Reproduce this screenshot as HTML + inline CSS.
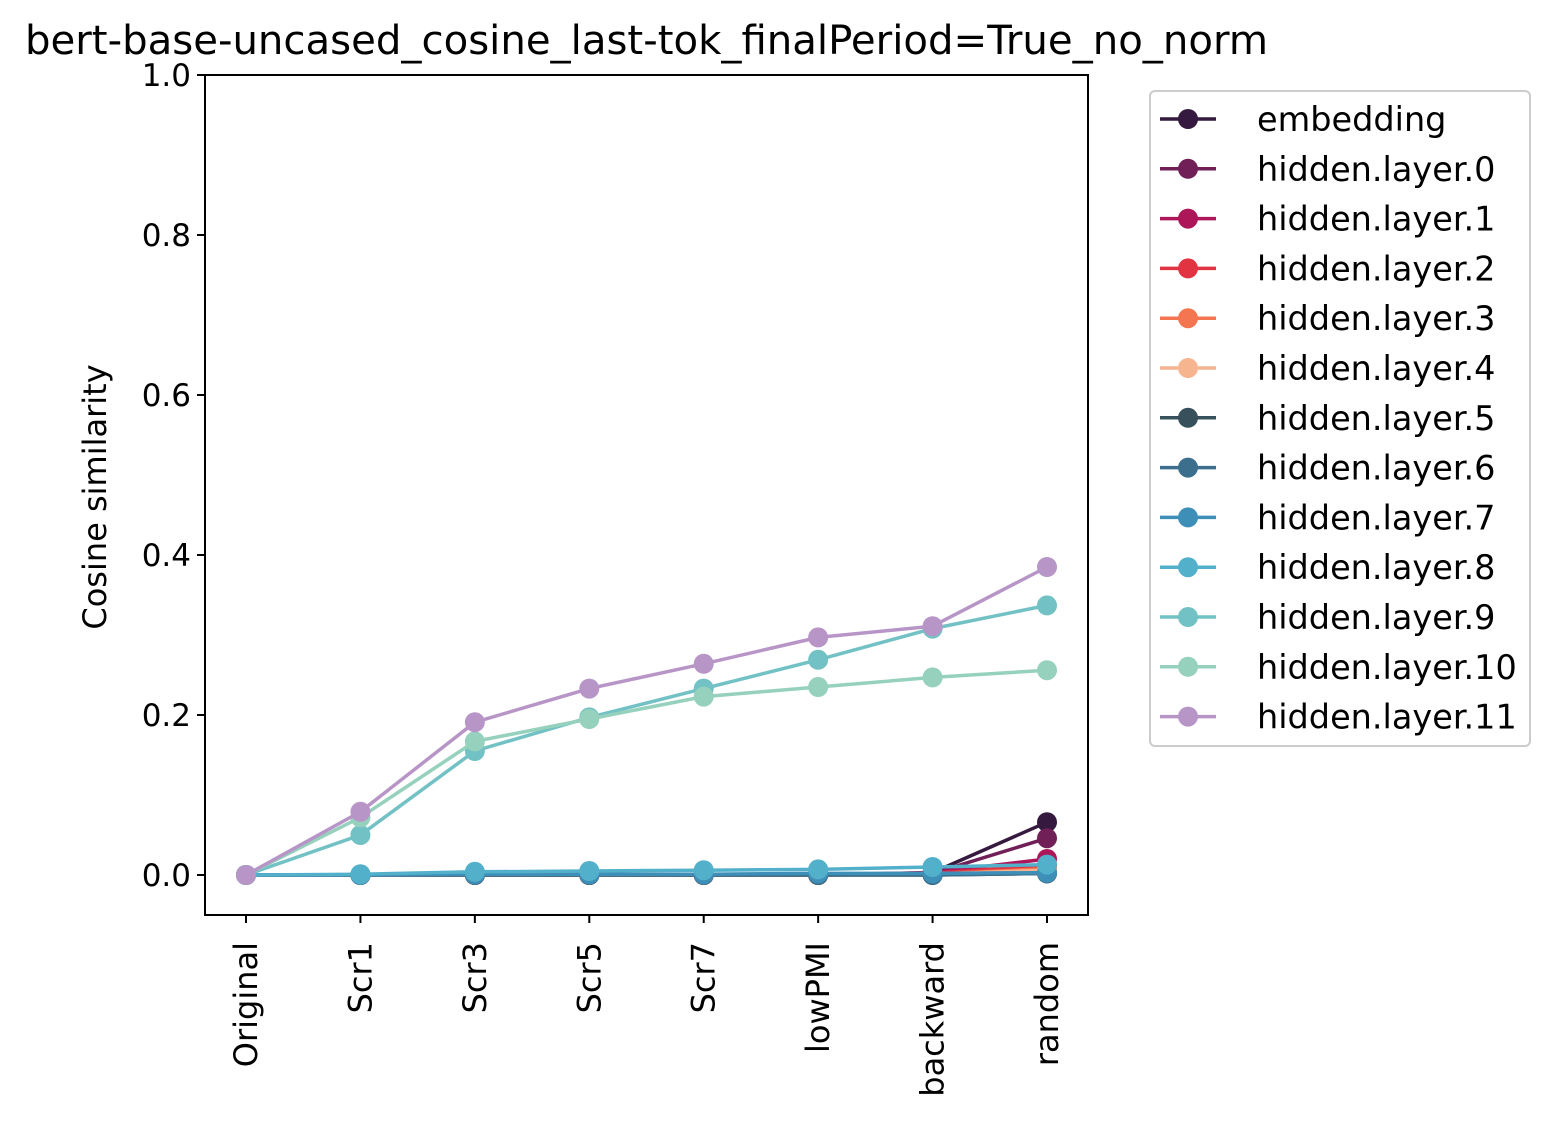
<!DOCTYPE html>
<html><head><meta charset="utf-8"><style>body{margin:0;background:#fff}svg{display:block;font-family:"DejaVu Sans","Liberation Sans",sans-serif}</style></head>
<body>
<svg id="c" width="1555" height="1124"></svg>
<script>
const categories=["Original","Scr1","Scr3","Scr5","Scr7","lowPMI","backward","random"];
const seriesNames=["embedding","hidden.layer.0","hidden.layer.1","hidden.layer.2","hidden.layer.3","hidden.layer.4","hidden.layer.5","hidden.layer.6","hidden.layer.7","hidden.layer.8","hidden.layer.9","hidden.layer.10","hidden.layer.11"];
const colors=["#35193e","#701f57","#ad1759","#e13342","#f37651","#f6b48f","#37505c","#3b6f8c","#3e8fb8","#52b0cb","#72c1c4","#95d1bc","#b795c7"];
const sEmb=[0,0,0,0,0,0,0.003,0.066];
const sL0=[0,0,0,0,0,0,0.002,0.046];
const sL1=[0,0,0,0,0,0,0.003,0.02];
const sL2=[0,0,0,0,0,0,0.002,0.012];
const sL3=[0,0,0,0,0,0,0.001,0.008];
const sL4=[0,0,0,0,0,0,0.001,0.006];
const sL5=[0,0,0,0,0,0,0,0.002];
const sL6=[0,0,0,0,0,0,0,0.002];
const sL7=[0,0,0.001,0.001,0.001,0.002,0.002,0.003];
const sL8=[0,0.001,0.004,0.005,0.006,0.007,0.010,0.013];
const sL9=[0,0.05,0.155,0.197,0.233,0.269,0.308,0.337];
const sL10=[0,0.072,0.167,0.195,0.223,0.235,0.247,0.256];
const sL11=[0,0.079,0.191,0.233,0.264,0.297,0.311,0.385];
const yTicks=[0,0.2,0.4,0.6,0.8,1.0];
const series=[sEmb,sL0,sL1,sL2,sL3,sL4,sL5,sL6,sL7,sL8,sL9,sL10,sL11];
const NS="http://www.w3.org/2000/svg",svg=document.getElementById('c');
const X0=205,X1=1088,Y0=75,Y1=915;
const xs=i=>246+i*(1047-246)/(categories.length-1);
const ys=v=>875-v*800;
function el(t,a,p){const e=document.createElementNS(NS,t);for(const k in a)e.setAttribute(k,a[k]);(p||svg).appendChild(e);return e;}
let t=el('text',{x:25,y:54,'font-size':40,fill:'#000',textLength:1243,lengthAdjust:'spacingAndGlyphs'});t.textContent="bert-base-uncased_cosine_last-tok_finalPeriod=True_no_norm";


yTicks.forEach(v=>{const y=ys(v);el('line',{x1:X0-8,x2:X0,y1:y,y2:y,stroke:'#000','stroke-width':2});
const tx=el('text',{x:X0-14,y:y+11,'font-size':31,'text-anchor':'end'});tx.textContent=v.toFixed(1);

});
categories.forEach((c,i)=>{const x=xs(i);el('line',{x1:x,x2:x,y1:Y1,y2:Y1+8,stroke:'#000','stroke-width':2});
const tx=el('text',{x:0,y:0,'font-size':32,'text-anchor':'end',transform:`translate(${x+11},${Y1+27}) rotate(-90)`});tx.textContent=c;

});
const yl=el('text',{x:0,y:0,'font-size':32,'text-anchor':'middle',transform:'translate(106,497) rotate(-90)'});yl.textContent="Cosine similarity";


series.forEach((s,k)=>{const g=el('g',{});


el('polyline',{points:s.map((v,i)=>xs(i)+','+ys(v)).join(' '),fill:'none',stroke:colors[k],'stroke-width':3.5},g);
s.forEach((v,i)=>el('circle',{cx:xs(i),cy:ys(v),r:10,fill:colors[k]},g));});
el('rect',{x:X0,y:Y0,width:X1-X0,height:Y1-Y0,fill:'none',stroke:'#000','stroke-width':2});
const lg=el('g',{});


el('rect',{x:1150,y:91,width:380,height:655,rx:5,fill:'#fff',stroke:'#ccc','stroke-width':2},lg);
seriesNames.forEach((n,k)=>{const y=119+k*49.8;const g=el('g',{},lg);


el('line',{x1:1160,x2:1216,y1:y,y2:y,stroke:colors[k],'stroke-width':3.5},g);
el('circle',{cx:1188,cy:y,r:10,fill:colors[k]},g);
const tx=el('text',{x:1257,y:y+12,'font-size':33.5},g);tx.textContent=n;});
</script>
</body></html>
